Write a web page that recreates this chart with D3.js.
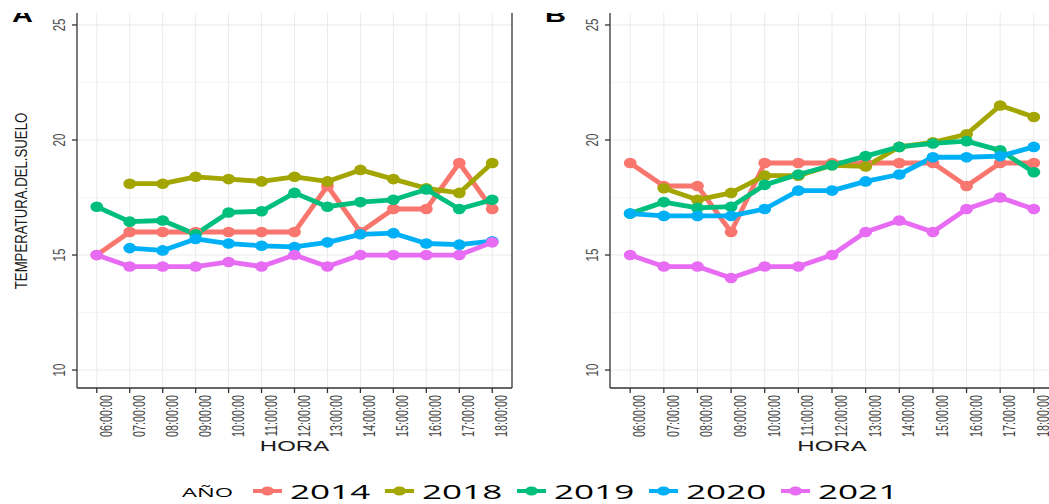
<!DOCTYPE html>
<html>
<head>
<meta charset="utf-8">
<script src="https://cdn.jsdelivr.net/npm/d3@7/dist/d3.min.js"></script>
<style>
  body { margin: 0; background: #fff; }
  svg { display: block; }
</style>
</head>
<body>
<svg id="chart" width="1049" height="504"></svg>
<script>
// categories
const horas = ["06:00:00", "07:00:00", "08:00:00", "09:00:00", "10:00:00", "11:00:00", "12:00:00",
  "13:00:00", "14:00:00", "15:00:00", "16:00:00", "17:00:00", "18:00:00"];
const anios = ["2014", "2018", "2019", "2020", "2021"];
const colores = ["#F8766D", "#A3A500", "#00BF7D", "#00B0F6", "#E76BF3"];
const yTicks = [10, 15, 20, 25];
const yMinor = [12.5, 17.5, 22.5];

// panel A values (null = no reading)
const a2014 = [15, 16, 16, 16, 16, 16, 16, 18, 16, 17, 17, 19, 17];
const a2018 = [null, 18.1, 18.1, 18.4, 18.3, 18.2, 18.4, 18.2, 18.7, 18.3, 17.9, 17.7, 19.0];
const a2019 = [17.1, 16.45, 16.5, 15.9, 16.85, 16.9, 17.7, 17.1, 17.3, 17.4, 17.85, 17.0, 17.4];
const a2020 = [null, 15.3, 15.2, 15.7, 15.5, 15.4, 15.35, 15.55, 15.9, 15.95, 15.5, 15.45, 15.6];
const a2021 = [15, 14.5, 14.5, 14.5, 14.7, 14.5, 15, 14.5, 15, 15, 15, 15, 15.55];

// panel B values
const b2014 = [19, 18, 18, 16, 19, 19, 19, 19, 19, 19, 18, 19, 19];
const b2018 = [null, 17.9, 17.4, 17.7, 18.45, 18.45, 18.9, 18.85, 19.7, 19.9, 20.25, 21.5, 21.0];
const b2019 = [16.8, 17.3, 17.05, 17.1, 18.05, 18.5, 18.9, 19.3, 19.7, 19.85, 19.95, 19.55, 18.6];
const b2020 = [16.8, 16.7, 16.7, 16.7, 17.0, 17.8, 17.8, 18.2, 18.5, 19.25, 19.25, 19.3, 19.7];
const b2021 = [15, 14.5, 14.5, 14, 14.5, 14.5, 15, 16, 16.5, 16, 17, 17.5, 17];

const svg = d3.select("#chart");
const plotTop = 13, plotBottom = 388;
const stretch = 1.6; // the picture is squeezed vertically, text looks wide

const y = d3.scaleLinear().domain([9.22, 25.52]).range([plotBottom, plotTop]);

// the source figure is cut just above the panels, tags included
svg.append("clipPath").attr("id", "cut")
  .append("rect").attr("x", 0).attr("y", plotTop).attr("width", 1049).attr("height", 504);

const panels = [
  { label: "A", x0: 77, x1: 512, border: true, series: [a2014, a2018, a2019, a2020, a2021] },
  { label: "B", x0: 610, x1: 1054, border: false, series: [b2014, b2018, b2019, b2020, b2021] }
];

function drawPanel(p) {
  const x = d3.scalePoint().domain(horas).range([p.x0, p.x1]).padding(0.6);
  const g = svg.append("g");

  // grid
  g.selectAll(".vgrid").data(horas).join("line")
    .attr("x1", d => x(d)).attr("x2", d => x(d))
    .attr("y1", plotTop).attr("y2", plotBottom)
    .attr("stroke", "#ebebeb").attr("stroke-width", 1);
  g.selectAll(".minor").data(yMinor).join("line")
    .attr("x1", p.x0).attr("x2", p.x1)
    .attr("y1", d => y(d)).attr("y2", d => y(d))
    .attr("stroke", "#f0f0f0").attr("stroke-width", 0.7);
  g.selectAll(".major").data(yTicks).join("line")
    .attr("x1", p.x0).attr("x2", p.x1)
    .attr("y1", d => y(d)).attr("y2", d => y(d))
    .attr("stroke", "#ebebeb").attr("stroke-width", 1);

  // axis lines and ticks
  const ax = g.append("g").attr("stroke", "#333").attr("stroke-width", 1.3);
  ax.append("line").attr("x1", p.x0).attr("x2", p.x0).attr("y1", plotTop).attr("y2", plotBottom);
  ax.append("line").attr("x1", p.x0).attr("x2", p.x1).attr("y1", plotBottom).attr("y2", plotBottom);
  if (p.border) {
    ax.append("line").attr("x1", p.x1).attr("x2", p.x1).attr("y1", plotTop).attr("y2", plotBottom);
  }
  ax.selectAll(".yt").data(yTicks).join("line")
    .attr("x1", p.x0 - 5).attr("x2", p.x0)
    .attr("y1", d => y(d)).attr("y2", d => y(d));
  ax.selectAll(".xt").data(horas).join("line")
    .attr("x1", d => x(d)).attr("x2", d => x(d))
    .attr("y1", plotBottom).attr("y2", plotBottom + 5);

  // tick labels
  g.selectAll(".ytl").data(yTicks).join("text")
    .attr("transform", d => `translate(${p.x0 - 12},${y(d)}) scale(1.45,1) rotate(-90)`)
    .attr("text-anchor", "middle")
    .attr("font-family", "Liberation Sans, Arial, sans-serif")
    .attr("font-size", 11.5)
    .attr("fill", "#4d4d4d")
    .text(d => d);
  g.selectAll(".xtl").data(horas).join("text")
    .attr("transform", d => `translate(${x(d) + 15},${plotBottom + 7}) scale(1.45,1) rotate(-90)`)
    .attr("text-anchor", "end")
    .attr("font-family", "Liberation Sans, Arial, sans-serif")
    .attr("font-size", 10.8)
    .attr("fill", "#444")
    .text(d => d);

  // x title
  g.append("text")
    .attr("transform", `translate(${(p.x0 + p.x1) / 2},451) scale(${stretch},1)`)
    .attr("text-anchor", "middle")
    .attr("font-family", "Liberation Sans, Arial, sans-serif")
    .attr("font-size", 15)
    .attr("fill", "#1a1a1a")
    .text("HORA");

  // panel tag, only its lower part shows
  g.append("g").attr("clip-path", "url(#cut)")
    .append("text")
    .attr("transform", `translate(${p.x0 - 65},21.5) scale(1.45,1)`)
    .attr("font-family", "Liberation Sans, Arial, sans-serif")
    .attr("font-weight", "bold")
    .attr("font-size", 20)
    .attr("fill", "#000")
    .text(p.label);

  // lines, then points (ggplot order)
  const line = d3.line()
    .defined(d => d.v != null)
    .x(d => x(d.h))
    .y(d => y(d.v));
  const rows = p.series.map((vals, i) => ({
    anio: anios[i],
    color: colores[i],
    pts: vals.map((v, j) => ({ h: horas[j], v: v }))
  }));
  g.selectAll(".serie").data(rows).join("path")
    .attr("d", d => line(d.pts))
    .attr("fill", "none")
    .attr("stroke", d => d.color)
    .attr("stroke-width", 4.8)
    .attr("stroke-linejoin", "round");
  rows.forEach(r => {
    g.selectAll(null).data(r.pts.filter(d => d.v != null)).join("ellipse")
      .attr("cx", d => x(d.h))
      .attr("cy", d => y(d.v))
      .attr("rx", 6.4).attr("ry", 5.3)
      .attr("fill", r.color);
  });
}

panels.forEach(drawPanel);

// y title (panel A only)
svg.append("text")
  .attr("transform", "translate(27,201) scale(1.25,1) rotate(-90)")
  .attr("text-anchor", "middle")
  .attr("font-family", "Liberation Sans, Arial, sans-serif")
  .attr("font-size", 13.2)
  .attr("fill", "#1a1a1a")
  .text("TEMPERATURA.DEL.SUELO");

// legend
const leg = svg.append("g");
leg.append("text")
  .attr("transform", `translate(182,497) scale(1.75,1)`)
  .attr("font-family", "Open Sans, DejaVu Sans, sans-serif")
  .attr("font-size", 13.5)
  .attr("fill", "#000")
  .text("AÑO");
const keyX = d3.scaleLinear().domain([0, anios.length - 1]).range([253, 781]);
const items = leg.selectAll(".item").data(anios).join("g")
  .attr("transform", (d, i) => `translate(${keyX(i)},491)`);
items.append("line")
  .attr("x1", 0).attr("x2", 29).attr("y1", 0).attr("y2", 0)
  .attr("stroke", (d, i) => colores[i]).attr("stroke-width", 4);
items.append("ellipse")
  .attr("cx", 14.5).attr("cy", 0).attr("rx", 6.5).attr("ry", 4.5)
  .attr("fill", (d, i) => colores[i]);
items.append("text")
  .attr("transform", `translate(37,7.5) scale(1.8,1)`)
  .attr("font-family", "Open Sans, DejaVu Sans, sans-serif")
  .attr("font-size", 19.5)
  .attr("fill", "#000")
  .text(d => d);
</script>
</body>
</html>
